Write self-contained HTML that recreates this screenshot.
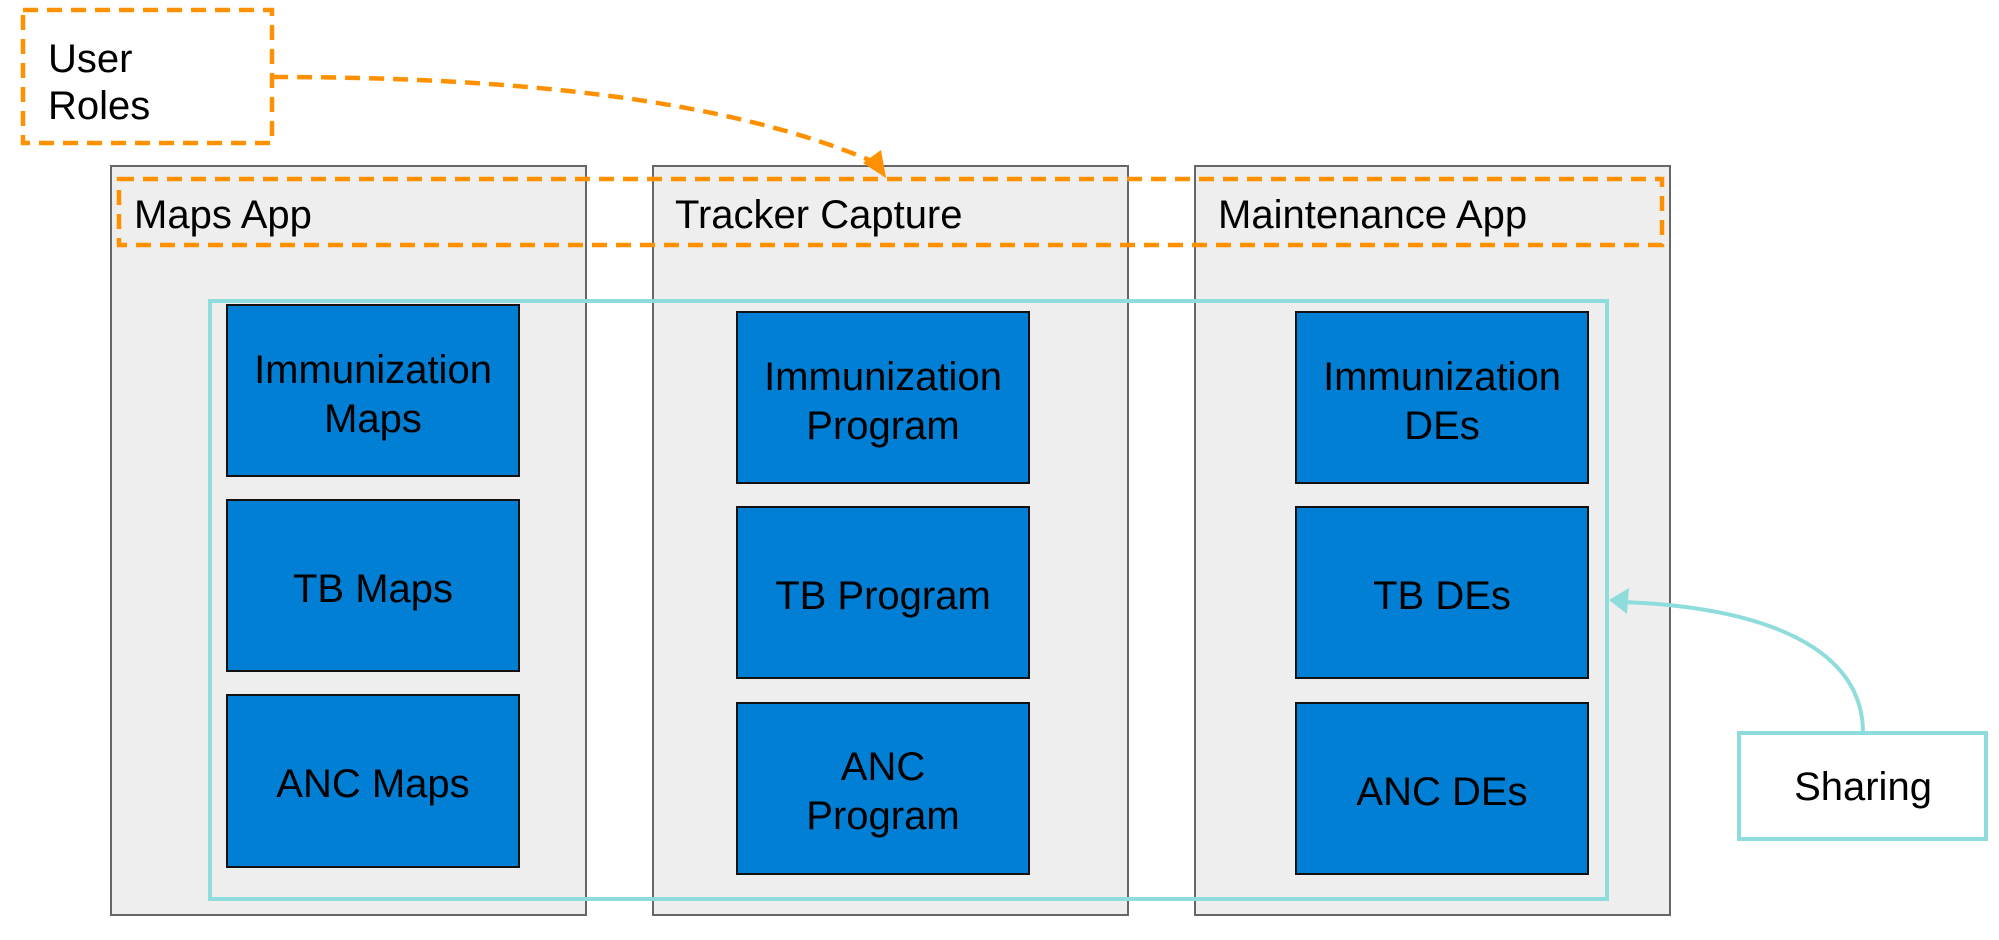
<!DOCTYPE html>
<html><head><meta charset="utf-8"><style>
html,body{margin:0;padding:0;background:#fff;width:1999px;height:940px;overflow:hidden}
text{font-family:"Liberation Sans",sans-serif;fill:#000}
</style></head><body>
<svg width="1999" height="940" viewBox="0 0 1999 940" xmlns="http://www.w3.org/2000/svg">
<g fill="#eeeeee" stroke="#666" stroke-width="2">
<rect x="111" y="166" width="475" height="749"/>
<rect x="653" y="166" width="475" height="749"/>
<rect x="1195" y="166" width="475" height="749"/>
</g>
<g fill="#007fd4" stroke="#111" stroke-width="2">
<rect x="227" y="305" width="292" height="171"/>
<rect x="227" y="500" width="292" height="171"/>
<rect x="227" y="695" width="292" height="172"/>
<rect x="737" y="312" width="292" height="171"/>
<rect x="737" y="507" width="292" height="171"/>
<rect x="737" y="703" width="292" height="171"/>
<rect x="1296" y="312" width="292" height="171"/>
<rect x="1296" y="507" width="292" height="171"/>
<rect x="1296" y="703" width="292" height="171"/>
</g>
<rect x="210" y="301" width="1397" height="598" fill="none" stroke="#8fdcdc" stroke-width="4"/>
<rect x="1739" y="733" width="247" height="106" fill="#fff" stroke="#8fdcdc" stroke-width="4"/>
<path d="M1863,733 C1863,650 1770,608 1624,602" fill="none" stroke="#8fdcdc" stroke-width="4"/>
<path d="M1609,600 L1629,588 L1627,614 z" fill="#8fdcdc"/>
<g fill="none" stroke="#ff9100" stroke-width="4.5" stroke-dasharray="15 9">
<rect x="23" y="10" width="249" height="133"/>
<rect x="119" y="179" width="1543" height="66"/>
<path d="M273,77 C520,77 730,100 874,162"/>
</g>
<path d="M886,178 L863,163 L881,150 z" fill="#ff9100"/>
<g font-size="40">
<text x="48" y="72">User</text>
<text x="48" y="119">Roles</text>
<text x="134" y="228">Maps App</text>
<text x="675" y="228">Tracker Capture</text>
<text x="1218" y="228">Maintenance App</text>
</g>
<g font-size="40" text-anchor="middle">
<text x="373" y="383">Immunization</text>
<text x="373" y="432">Maps</text>
<text x="373" y="602">TB Maps</text>
<text x="373" y="797">ANC Maps</text>
<text x="883" y="390">Immunization</text>
<text x="883" y="439">Program</text>
<text x="883" y="609">TB Program</text>
<text x="883" y="780">ANC</text>
<text x="883" y="829">Program</text>
<text x="1442" y="390">Immunization</text>
<text x="1442" y="439">DEs</text>
<text x="1442" y="609">TB DEs</text>
<text x="1442" y="805">ANC DEs</text>
<text x="1863" y="800">Sharing</text>
</g>
</svg>
</body></html>
